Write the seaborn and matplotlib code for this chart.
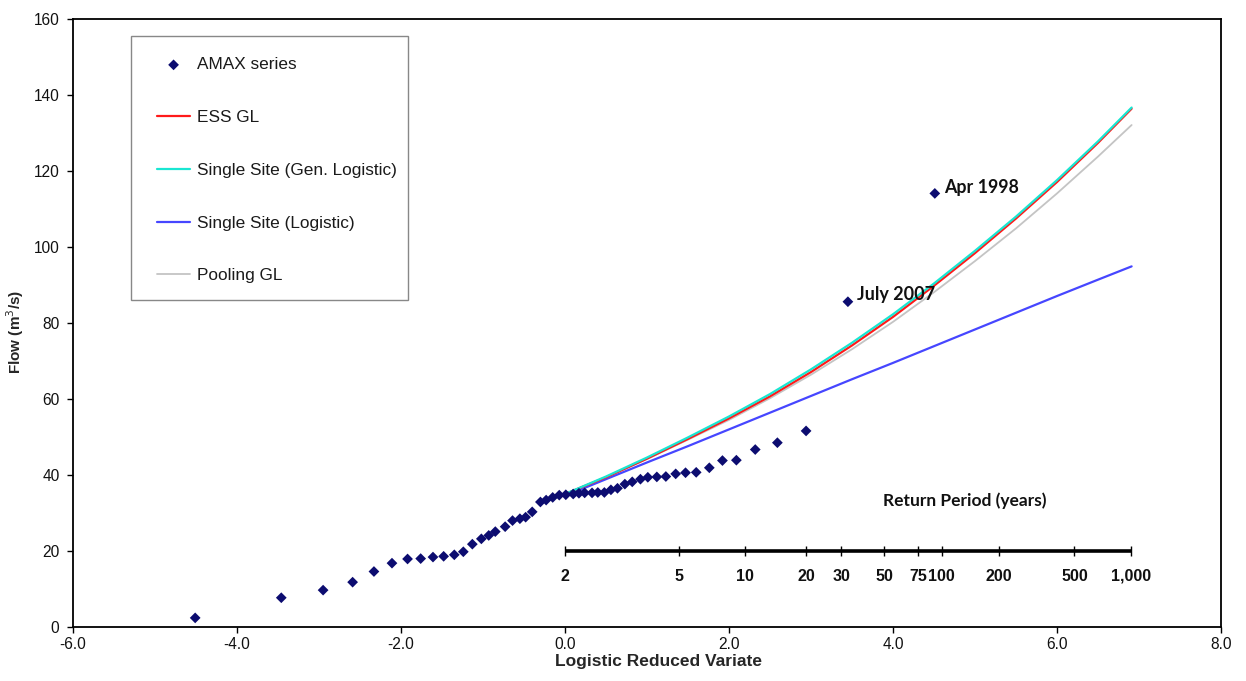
import numpy as np
import pandas as pd
import matplotlib
matplotlib.use("Agg")
import matplotlib.pyplot as plt
from matplotlib.patches import Rectangle
from matplotlib.ticker import FormatStrFormatter
import seaborn as sns

# Annual maximum (AMAX) flows against their logistic reduced variate
amax_variate = [-4.51, -3.46, -2.95, -2.59, -2.33, -2.11, -1.92, -1.76, -1.61, -1.48,
                -1.35, -1.24, -1.13, -1.02, -0.93, -0.85, -0.73, -0.64, -0.55, -0.48,
                -0.40, -0.30, -0.23, -0.15, -0.07, 0.01, 0.10, 0.17, 0.24, 0.33,
                0.40, 0.48, 0.56, 0.64, 0.73, 0.82, 0.92, 1.01, 1.12, 1.23,
                1.35, 1.47, 1.60, 1.76, 1.92, 2.09, 2.32, 2.59, 2.94, 3.45, 4.51]
amax_flow = [2.4, 7.7, 9.7, 11.8, 14.6, 16.8, 17.9, 18.0, 18.4, 18.6,
             19.0, 19.8, 21.8, 23.2, 24.1, 25.1, 26.4, 28.0, 28.5, 28.9,
             30.3, 32.9, 33.4, 34.1, 34.7, 34.8, 35.0, 35.2, 35.3, 35.3,
             35.4, 35.4, 36.1, 36.5, 37.6, 38.2, 38.9, 39.4, 39.5, 39.6,
             40.3, 40.6, 40.7, 41.9, 43.8, 43.9, 46.7, 48.5, 51.6, 85.6, 114.1]

# Fitted growth curves sampled along the reduced variate
curve_variate = [0.0, 0.5, 1.0, 1.5, 2.0, 2.5, 3.0, 3.5, 4.0, 4.5, 5.0, 5.5, 6.0, 6.5, 6.91]
ess_gl = [35.0, 39.4, 44.3, 49.5, 54.9, 60.7, 67.1, 74.1, 81.6, 89.8, 98.4, 107.5, 117.1, 127.4, 136.4]
single_gen_logistic = [35.0, 39.6, 44.6, 49.9, 55.4, 61.3, 67.8, 74.8, 82.3, 90.4, 99.0, 108.0, 117.6, 127.8, 136.7]
single_logistic = [34.5, 38.9, 43.3, 47.6, 52.0, 56.4, 60.8, 65.2, 69.5, 73.9, 78.3, 82.7, 87.1, 91.4, 94.9]
pooling_gl = [35.0, 39.4, 44.2, 49.3, 54.5, 60.2, 66.4, 73.1, 80.3, 88.1, 96.3, 104.9, 114.1, 123.8, 132.1]

# Return periods marked on the secondary scale
return_periods = [2, 5, 10, 20, 30, 50, 75, 100, 200, 500, 1000]
return_labels = ["2", "5", "10", "20", "30", "50", "75", "100", "200", "500", "1,000"]

sns.set_theme(style="white")
plt.rcParams["font.family"] = ["Liberation Sans", "DejaVu Sans"]

W, H = 1246, 681
fig = plt.figure(figsize=(W / 100, H / 100), dpi=100)
ax = fig.add_axes([73 / W, 1 - 627 / H, (1221 - 73) / W, (627 - 19) / H])

curves = pd.DataFrame({
    "variate": curve_variate,
    "ESS GL": ess_gl,
    "Single Site (Gen. Logistic)": single_gen_logistic,
    "Single Site (Logistic)": single_logistic,
    "Pooling GL": pooling_gl,
})
curve_colors = {
    "ESS GL": "#ff1a1a",
    "Single Site (Gen. Logistic)": "#19e6d2",
    "Single Site (Logistic)": "#4646ff",
    "Pooling GL": "#c4c4c4",
}
draw_order = ["Pooling GL", "Single Site (Logistic)", "ESS GL", "Single Site (Gen. Logistic)"]
for name in draw_order:
    sns.lineplot(data=curves, x="variate", y=name, color=curve_colors[name],
                 linewidth=1.6 if name != "Pooling GL" else 1.3, label=name, ax=ax,
                 zorder=3)

sns.scatterplot(x=amax_variate, y=amax_flow, marker="D", s=30, color="#0c0c70",
                edgecolor="none", label="AMAX series", ax=ax, zorder=5)

# Return-period scale drawn along Flow = 20
rp_x = np.log(np.array(return_periods, dtype=float) - 1.0)
ax.plot([rp_x[0], rp_x[-1]], [20, 20], color="black", linewidth=2.6, zorder=4,
        solid_capstyle="butt")
ax.vlines(rp_x, 18.6, 21.4, color="black", linewidth=1.0, zorder=4)
for xv, lab in zip(rp_x, return_labels):
    ax.text(xv, 13.4, lab, ha="center", va="center", fontsize=11.5,
            fontweight="bold", color="#111111")
ax.text(4.88, 33.2, "Return Period (years)", ha="center", va="center",
        fontsize=12.5, fontweight="bold", family=["Lato", "DejaVu Sans"], color="#111111")

# Named flood events
ax.text(3.56, 87.4, "July 2007", ha="left", va="center", fontsize=13,
        fontweight="bold", family=["Lato", "DejaVu Sans"], color="#111111")
ax.text(4.62, 115.6, "Apr 1998", ha="left", va="center", fontsize=12.8,
        fontweight="bold", family=["Lato", "DejaVu Sans"], color="#111111")

ax.set_xlim(-6, 8)
ax.set_ylim(0, 160)
ax.set_xticks(np.arange(-6, 8.1, 2))
ax.set_yticks(np.arange(0, 161, 20))
ax.xaxis.set_major_formatter(FormatStrFormatter("%.1f"))
ax.yaxis.set_major_formatter(FormatStrFormatter("%d"))
ax.tick_params(axis="both", which="major", direction="out", length=4.3, width=1,
               labelsize=11.2, color="black", labelcolor="#111111", pad=5.5,
               bottom=True, left=True, top=False, right=False)
ax.tick_params(axis="x", pad=3)
for side in ["left", "bottom", "top", "right"]:
    ax.spines[side].set_visible(True)
    ax.spines[side].set_color("black")
    ax.spines[side].set_linewidth(1.3)

ax.set_xlabel("Logistic Reduced Variate", fontsize=12.5, fontweight="bold")
ax.xaxis.set_label_coords(0.51, -0.045)
ax.set_ylabel("Flow (m$^3$/s)", fontsize=11, fontweight="bold")
ax.yaxis.set_label_coords(-0.041, 0.485)
ax.grid(False)

# Legend: framed box with widely spaced entries
frame = Rectangle((0.0505, 0.5378), 0.2413, 0.4342, transform=ax.transAxes,
                  facecolor="white", edgecolor="#888888", linewidth=1.0, zorder=6)
ax.add_patch(frame)
handles, labels = ax.get_legend_handles_labels()
order = ["AMAX series", "ESS GL", "Single Site (Gen. Logistic)",
         "Single Site (Logistic)", "Pooling GL"]
hmap = dict(zip(labels, handles))
leg = ax.legend([hmap[k] for k in order], order, loc="upper left",
                bbox_to_anchor=(0.0732, 0.937), fontsize=12.4, frameon=False,
                labelspacing=2.19, borderpad=0, handlelength=1.92,
                handletextpad=0.4, borderaxespad=0, scatterpoints=1)
leg.set_zorder(7)
for t in leg.get_texts():
    t.set_color("#1a1a1a")

fig.savefig("out.png", dpi=100, facecolor="white")
